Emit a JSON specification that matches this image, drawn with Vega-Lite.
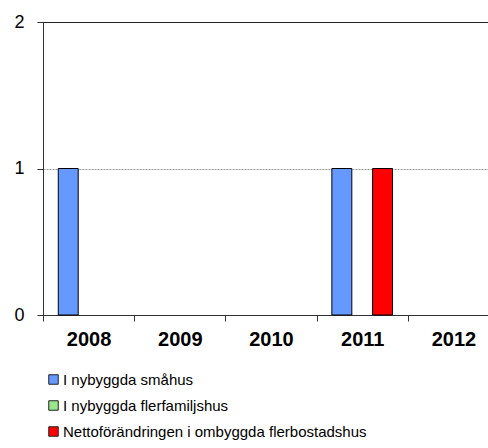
{
  "$schema": "https://vega.github.io/schema/vega-lite/v6.json",
  "width": 456,
  "height": 293,
  "autosize": {"type": "none"},
  "padding": {"left": 43, "top": 22, "right": 0, "bottom": 133},
  "config": {
    "font": "Liberation Sans",
    "view": {"stroke": "#222222", "strokeWidth": 1}
  },
  "data": {
    "values": [
      {"year": "2008", "series": "I nybyggda småhus", "value": 1},
      {"year": "2011", "series": "I nybyggda småhus", "value": 1},
      {"year": "2011", "series": "Nettoförändringen i ombyggda flerbostadshus", "value": 1}
    ]
  },
  "mark": {"type": "bar", "stroke": "#000000", "strokeWidth": 1},
  "encoding": {
    "x": {
      "field": "year",
      "type": "nominal",
      "scale": {"domain": ["2008", "2009", "2010", "2011", "2012"], "paddingInner": 0, "paddingOuter": 0},
      "axis": {
        "title": null,
        "labelAngle": 0,
        "labelFont": "Liberation Sans",
        "labelFontSize": 20,
        "labelFontWeight": "bold",
        "labelColor": "#000000",
        "labelPadding": 8,
        "tickBand": "extent",
        "tickSize": 6,
        "tickColor": "#333333",
        "domainColor": "#333333",
        "grid": false
      }
    },
    "xOffset": {
      "field": "series",
      "type": "nominal",
      "scale": {
        "domain": ["I nybyggda småhus", "I nybyggda flerfamiljshus", "Nettoförändringen i ombyggda flerbostadshus"],
        "paddingInner": 0.02,
        "paddingOuter": 0.75
      }
    },
    "y": {
      "field": "value",
      "type": "quantitative",
      "scale": {"domain": [0, 2]},
      "axis": {
        "title": null,
        "values": [0, 1, 2],
        "labelExpr": "format(datum.value, '.0f')",
        "labelOverlap": false,
        "labelFont": "Liberation Sans",
        "labelFontSize": 18,
        "labelColor": "#000000",
        "labelPadding": 13,
        "tickSize": 6,
        "tickColor": "#333333",
        "domainColor": "#333333",
        "grid": true,
        "gridColor": {"condition": {"test": "datum.value == 2", "value": "#222222"}, "value": "#999999"},
        "gridDash": {"condition": {"test": "datum.value == 2", "value": []}, "value": [2, 1]},
        "gridWidth": 1
      }
    },
    "color": {
      "field": "series",
      "type": "nominal",
      "scale": {
        "domain": ["I nybyggda småhus", "I nybyggda flerfamiljshus", "Nettoförändringen i ombyggda flerbostadshus"],
        "range": ["#6699FF", "#99E68C", "#FF0000"]
      },
      "legend": {
        "title": null,
        "orient": "none",
        "legendX": 3,
        "legendY": 350,
        "direction": "vertical",
        "symbolType": "square",
        "symbolSize": 90,
        "symbolStrokeColor": "#222222",
        "symbolStrokeWidth": 1,
        "labelFont": "Liberation Sans",
        "labelFontSize": 15,
        "labelColor": "#000000",
        "labelOffset": 2,
        "rowPadding": 10,
        "labelLimit": 500
      }
    }
  }
}
